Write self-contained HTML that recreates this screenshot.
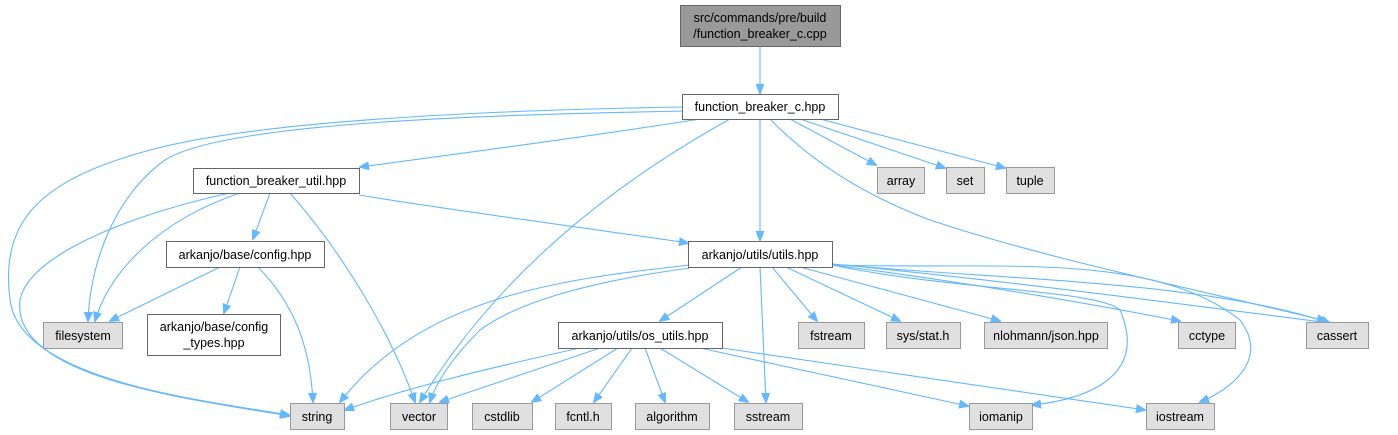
<!DOCTYPE html>
<html><head><meta charset="utf-8"><style>
html,body{margin:0;padding:0;background:#fff;}
svg{display:block;}
text{font-family:"Liberation Sans",sans-serif;font-size:12.5px;fill:#000;text-anchor:middle;}
.e{fill:none;stroke:#63b8ff;stroke-width:1.1;}
.n{fill:#fff;stroke:#666;stroke-width:1;}
.g{fill:#e0e0e0;stroke:#999;stroke-width:1;}
</style></head><body>
<svg width="1398" height="435" viewBox="0 0 1398 435" xmlns="http://www.w3.org/2000/svg">
<defs><marker id="a" viewBox="0 0 10 10" refX="9" refY="5" markerWidth="10" markerHeight="10" markerUnits="userSpaceOnUse" orient="auto"><path d="M0,1 L10,5 L0,9 z" fill="#63b8ff" stroke="#63b8ff"/></marker></defs>
<g marker-end="url(#a)">
<path class="e" d="M760,46 L760,93"/>
<!-- from fbc.hpp -->
<path class="e" d="M682,107 C500,110 260,120 150,150 C40,180 0,220 10,300 C20,380 200,400 289,415"/>
<path class="e" d="M690,111 C450,115 220,125 165,160 C110,200 90,270 88,321"/>
<path class="e" d="M700,119 C600,135 450,155 360,167"/>
<path class="e" d="M730,119 C620,180 500,270 420,402"/>
<path class="e" d="M760,119 L760,240"/>
<path class="e" d="M790,119 L876,165"/>
<path class="e" d="M800,119 L945,168"/>
<path class="e" d="M820,119 L1005,168"/>
<path class="e" d="M770,119 C800,150 850,190 930,220 C1050,260 1200,290 1326,321"/>
<!-- from util -->
<path class="e" d="M230,193 C150,210 30,250 20,300 C10,380 200,400 289,416"/>
<path class="e" d="M240,193 C160,220 110,270 95,321"/>
<path class="e" d="M270,193 L253,239"/>
<path class="e" d="M290,193 C340,250 390,330 415,402"/>
<path class="e" d="M359,195 C450,210 600,230 688,243"/>
<!-- config -->
<path class="e" d="M220,267 L110,321"/>
<path class="e" d="M240,267 L224,313"/>
<path class="e" d="M258,267 C290,300 310,340 313,402"/>
<!-- utils.hpp -->
<path class="e" d="M690,265 C550,280 420,300 340,402"/>
<path class="e" d="M690,268 C600,280 520,300 480,330 C450,360 435,385 430,402"/>
<path class="e" d="M742,267 L660,321"/>
<path class="e" d="M760,267 L766,402"/>
<path class="e" d="M772,267 L817,321"/>
<path class="e" d="M786,267 L900,321"/>
<path class="e" d="M800,267 L1000,321"/>
<path class="e" d="M832,265 C950,280 1070,300 1180,321"/>
<path class="e" d="M832,264 C1000,280 1150,300 1330,323"/>
<path class="e" d="M832,265 C950,290 1100,290 1120,310 C1150,380 1080,400 1032,405"/>
<path class="e" d="M832,265 C1000,270 1150,250 1240,320 C1270,360 1230,390 1200,402"/>
<path class="e" d="M832,264 C1000,280 1200,280 1330,323"/>
<!-- os_utils -->
<path class="e" d="M580,348 C480,370 400,390 345,410"/>
<path class="e" d="M600,348 L440,402"/>
<path class="e" d="M618,348 L532,402"/>
<path class="e" d="M632,348 L594,402"/>
<path class="e" d="M645,348 L665,402"/>
<path class="e" d="M660,348 L748,402"/>
<path class="e" d="M700,348 L968,406"/>
<path class="e" d="M722,348 L1145,410"/>
</g>
<rect x="680.5" y="5.5" width="160" height="41" fill="#999" stroke="#666"/>
<text x="760" y="22">src/commands/pre/build</text><text x="760" y="38">/function_breaker_c.cpp</text>
<rect class="n" x="682.5" y="94.5" width="156" height="25"/><text x="760" y="111">function_breaker_c.hpp</text>
<rect class="n" x="193.5" y="168.5" width="166" height="25"/><text x="276" y="185">function_breaker_util.hpp</text>
<rect class="g" x="877.5" y="167.5" width="47" height="26"/><text x="901" y="185">array</text>
<rect class="g" x="946.5" y="167.5" width="38" height="26"/><text x="965" y="185">set</text>
<rect class="g" x="1006.5" y="167.5" width="48" height="26"/><text x="1030" y="185">tuple</text>
<rect class="n" x="688.5" y="241.5" width="144" height="26"/><text x="760" y="259">arkanjo/utils/utils.hpp</text>
<rect class="n" x="166.5" y="241.5" width="158" height="26"/><text x="245" y="259">arkanjo/base/config.hpp</text>
<rect class="g" x="43.5" y="322.5" width="79" height="26"/><text x="83" y="340">filesystem</text>
<rect class="n" x="147.5" y="314.5" width="133" height="41"/><text x="214" y="331">arkanjo/base/config</text><text x="214" y="347">_types.hpp</text>
<rect class="n" x="558.5" y="322.5" width="164" height="26"/><text x="640" y="340">arkanjo/utils/os_utils.hpp</text>
<rect class="g" x="798.5" y="322.5" width="66" height="26"/><text x="831" y="340">fstream</text>
<rect class="g" x="886.5" y="322.5" width="74" height="26"/><text x="923" y="340">sys/stat.h</text>
<rect class="g" x="984.5" y="322.5" width="123" height="26"/><text x="1046" y="340">nlohmann/json.hpp</text>
<rect class="g" x="1178.5" y="322.5" width="57" height="26"/><text x="1207" y="340">cctype</text>
<rect class="g" x="1306.5" y="322.5" width="62" height="26"/><text x="1337" y="340">cassert</text>
<rect class="g" x="290.5" y="403.5" width="54" height="26"/><text x="317" y="421">string</text>
<rect class="g" x="390.5" y="403.5" width="57" height="26"/><text x="419" y="421">vector</text>
<rect class="g" x="472.5" y="403.5" width="60" height="26"/><text x="502" y="421">cstdlib</text>
<rect class="g" x="555.5" y="403.5" width="56" height="26"/><text x="583" y="421">fcntl.h</text>
<rect class="g" x="635.5" y="403.5" width="74" height="26"/><text x="672" y="421">algorithm</text>
<rect class="g" x="734.5" y="403.5" width="68" height="26"/><text x="768" y="421">sstream</text>
<rect class="g" x="969.5" y="403.5" width="63" height="26"/><text x="1001" y="421">iomanip</text>
<rect class="g" x="1146.5" y="403.5" width="68" height="26"/><text x="1180" y="421">iostream</text>
</svg>
</body></html>
